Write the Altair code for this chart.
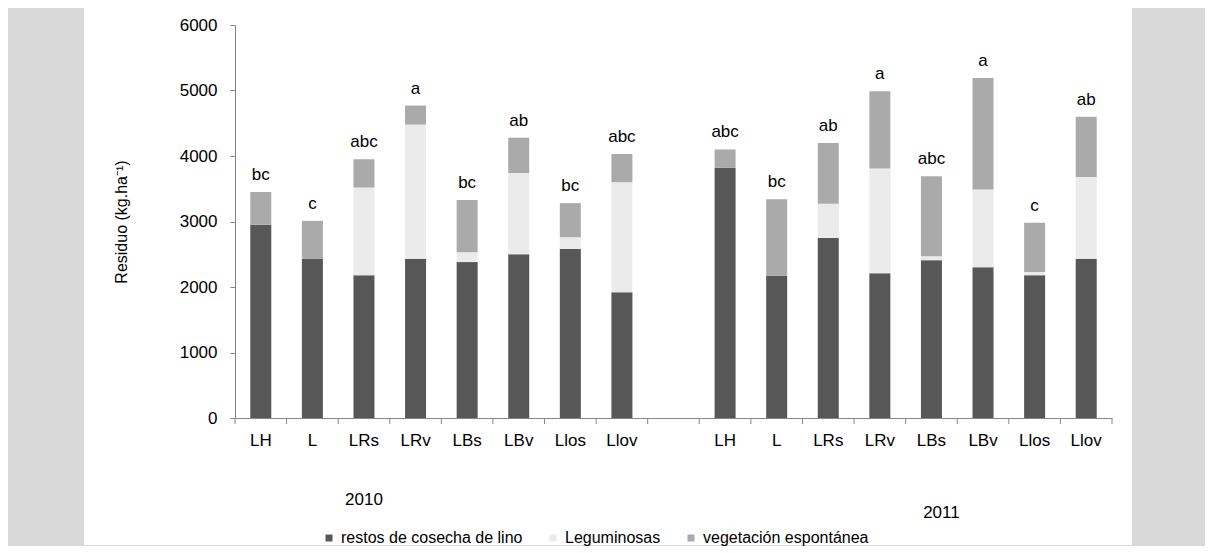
import altair as alt
import pandas as pd

treatments = ["LH", "L", "LRs", "LRv", "LBs", "LBv", "Llos", "Llov"]
years = ["2010", "2011"]
series = ["restos de cosecha de lino", "Leguminosas", "vegetación espontánea"]

lino_2010 = [2950, 2430, 2180, 2430, 2380, 2500, 2580, 1920]
legum_2010 = [0, 0, 1340, 2050, 150, 1240, 180, 1680]
veg_2010 = [500, 580, 430, 290, 800, 540, 520, 430]

lino_2011 = [3820, 2170, 2750, 2210, 2410, 2300, 2180, 2430]
legum_2011 = [0, 0, 520, 1600, 60, 1190, 50, 1250]
veg_2011 = [280, 1170, 930, 1180, 1220, 1700, 750, 920]

letters_2010 = ["bc", "c", "abc", "a", "bc", "ab", "bc", "abc"]
letters_2011 = ["abc", "bc", "ab", "a", "abc", "a", "c", "ab"]

FONT = "Liberation Sans"

cats = [f"2010|{t}" for t in treatments] + ["gap"] + [f"2011|{t}" for t in treatments]

rows = []
tops = []
for yr, li, le, ve, lets in [("2010", lino_2010, legum_2010, veg_2010, letters_2010),
                              ("2011", lino_2011, legum_2011, veg_2011, letters_2011)]:
    for i, t in enumerate(treatments):
        key = f"{yr}|{t}"
        base = 0
        for s, v in zip(series, [li[i], le[i], ve[i]]):
            rows.append({"cat": key, "serie": s, "y0": float(base), "y1": float(base + v)})
            base += v
        tops.append({"cat": key, "total": float(base), "letra": lets[i]})

df = pd.DataFrame(rows)
df_tops = pd.DataFrame(tops)
df_cats = pd.DataFrame({"cat": cats})
df_last = pd.DataFrame({"cat": cats[-1:]})

x_enc = alt.X("cat:N", scale=alt.Scale(domain=cats, paddingInner=0, paddingOuter=0),
              axis=alt.Axis(title=None, labelExpr="indexof(datum.value,'|')>=0 ? split(datum.value,'|')[1] : ''",
                            labelAngle=0, ticks=False, labelPadding=14, zindex=1,
                            labelFontSize=17, labelColor="#000000", labelFont=FONT,
                            domainColor="#868686"))

white_bg = alt.Chart(alt.Data(values=[{"a": 1}])).mark_rect(color="#ffffff").encode(
    x=alt.value(-151), x2=alt.value(897), y=alt.value(-17), y2=alt.value(520))

bars = alt.Chart(df).mark_bar(size=21).encode(
    x=x_enc,
    y=alt.Y("y0:Q", scale=alt.Scale(domain=[0, 6000]),
            axis=alt.Axis(title="Residuo (kg.ha⁻¹)", values=[0, 1000, 2000, 3000, 4000, 5000, 6000],
                          format="d",
                          grid=False, tickSize=5, labelPadding=13, labelFontSize=17, labelFont=FONT,
                          labelColor="#000000", domainColor="#868686", tickColor="#868686", zindex=1,
                          titleFont=FONT, titleFontSize=16, titleFontWeight="normal", titleColor="#000000",
                          titlePadding=50)),
    y2="y1:Q",
    color=alt.Color("serie:N",
                    scale=alt.Scale(domain=series, range=["#575757", "#ebebeb", "#aaaaaa"]),
                    legend=alt.Legend(title=None, orient="none", legendX=86, legendY=505,
                                      direction="horizontal", symbolType="square", symbolSize=49,
                                      labelFontSize=16, labelFont=FONT, columnPadding=22,
                                      labelColor="#000000", labelLimit=400)),
)

ticks_start = alt.Chart(df_cats).mark_rule(color="#868686").encode(
    x=alt.X("cat:N", bandPosition=0), y=alt.value(393), y2=alt.value(399))
ticks_end = alt.Chart(df_last).mark_rule(color="#868686").encode(
    x=alt.X("cat:N", bandPosition=1), y=alt.value(393), y2=alt.value(399))

letters = alt.Chart(df_tops).mark_text(baseline="bottom", dy=-8, fontSize=17, font=FONT, color="#000000").encode(
    x=alt.X("cat:N"), y=alt.Y("total:Q"), text="letra:N")

year_2010 = alt.Chart(alt.Data(values=[{"cat": "2010|LRs", "txt": "2010"}])).mark_text(
    fontSize=17, font=FONT, color="#000000", baseline="middle", dx=0).encode(
    x=alt.X("cat:N"), y=alt.value(475), text="txt:N")
year_2011 = alt.Chart(alt.Data(values=[{"cat": "2011|LBs", "txt": "2011"}])).mark_text(
    fontSize=17, font=FONT, color="#000000", baseline="middle", dx=10).encode(
    x=alt.X("cat:N"), y=alt.value(488), text="txt:N")

chart = alt.layer(white_bg, bars, ticks_start, ticks_end, letters, year_2010, year_2011).properties(
    width=877, height=393,
    padding={"left": 76, "top": 0, "right": 73, "bottom": 0},
    background="#d9d9d9",
)

chart.save("out.html", embed_options={"renderer": "svg", "actions": False})
